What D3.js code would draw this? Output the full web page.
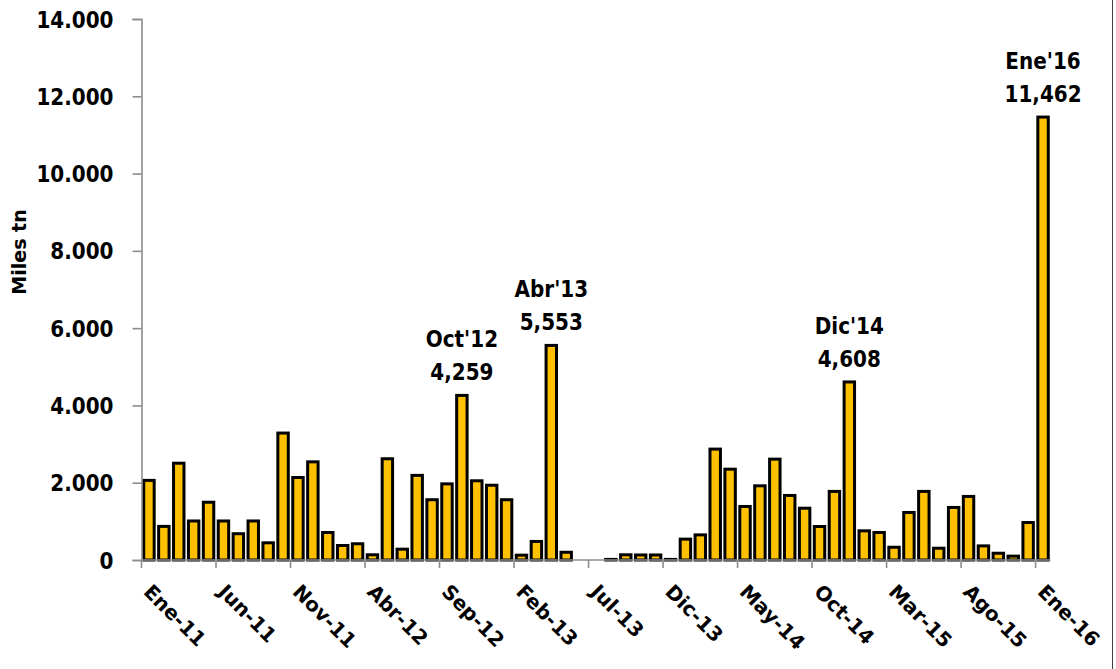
<!DOCTYPE html>
<html>
<head>
<meta charset="utf-8">
<script src="https://cdn.jsdelivr.net/npm/d3@7"></script>
<style>
  html, body { margin: 0; padding: 0; background: #fff; }
  svg { display: block; }
  text { font-family: "DejaVu Sans", sans-serif; font-weight: bold; fill: #000; }
</style>
</head>
<body>
<svg id="chart" width="1116" height="669"></svg>
<script>
// ---- Data ----
const categories = [
  "Ene-11","Feb-11","Mar-11","Abr-11","May-11","Jun-11","Jul-11","Ago-11","Sep-11","Oct-11","Nov-11","Dic-11",
  "Ene-12","Feb-12","Mar-12","Abr-12","May-12","Jun-12","Jul-12","Ago-12","Sep-12","Oct-12","Nov-12","Dic-12",
  "Ene-13","Feb-13","Mar-13","Abr-13","May-13","Jun-13","Jul-13","Ago-13","Sep-13","Oct-13","Nov-13","Dic-13",
  "Ene-14","Feb-14","Mar-14","Abr-14","May-14","Jun-14","Jul-14","Ago-14","Sep-14","Oct-14","Nov-14","Dic-14",
  "Ene-15","Feb-15","Mar-15","Abr-15","May-15","Jun-15","Jul-15","Ago-15","Sep-15","Oct-15","Nov-15","Dic-15",
  "Ene-16"
];
const values = [
  2060, 870, 2505, 1010, 1495, 1010, 680, 1010, 445, 3285, 2135, 2540,
  712, 375, 420, 135, 2620, 280, 2190, 1560, 1970, 4259, 2050, 1935,
  1560, 125, 480, 5553, 200, null, null, 15, 135, 130, 130, 15,
  540, 650, 2870, 2350, 1385, 1920, 2610, 1670, 1340, 867, 1775, 4608,
  755, 712, 330, 1230, 1775, 305, 1360, 1645, 365, 175, 100, 970,
  11462
];
const xTickLabels = ["Ene-11","Jun-11","Nov-11","Abr-12","Sep-12","Feb-13","Jul-13","Dic-13","May-14","Oct-14","Mar-15","Ago-15","Ene-16"];
const yTicks = [0, 2000, 4000, 6000, 8000, 10000, 12000, 14000];
const annCats = ["Oct-12", "Abr-13", "Dic-14", "Ene-16"];
const annTitles = ["Oct'12", "Abr'13", "Dic'14", "Ene'16"];
const annValues = ["4,259", "5,553", "4,608", "11,462"];
const yTitle = "Miles tn";

// ---- Layout ----
const svg = d3.select("#chart");
const plotL = 141.5, plotR = 1050.5, plotT = 19, plotB = 560;

const pIn = 0.3;
const x = d3.scaleBand().domain(categories).range([plotL, plotR]).paddingInner(pIn).paddingOuter(pIn / 2);
const y = d3.scaleLinear().domain([0, 14000]).range([plotB, plotT]);
const step = x.step();
const boundary = c => x(c) - step * pIn / 2;

// Bars
const data = categories.map((c, i) => ({ c, v: values[i] })).filter(d => d.v !== null);
svg.append("g").selectAll("rect").data(data).join("rect")
  .attr("x", d => x(d.c))
  .attr("width", x.bandwidth())
  .attr("y", d => y(d.v))
  .attr("height", d => y(0) - y(d.v))
  .attr("fill", "#FFC000")
  .attr("stroke", "#000")
  .attr("stroke-width", 3);

// Y axis
const yAxis = d3.axisLeft(y).tickValues(yTicks).tickSize(9).tickPadding(19)
  .tickFormat(v => d3.format(",")(v).replace(/,/g, "."));
const gy = svg.append("g").attr("transform", `translate(${plotL},0)`).call(yAxis);
gy.select(".domain").attr("stroke", "#8c8c8c").attr("stroke-width", 1.6);
gy.selectAll(".tick line").attr("stroke", "#8c8c8c").attr("stroke-width", 1.6);
gy.selectAll(".tick text").style("font-size", "20px").style("font-family", "DejaVu Sans").style("font-weight", "bold").attr("fill", "#000")
  .attr("dy", "0.36em")
  .attr("transform", "scale(1,1.12)");

// X axis (ticks between categories)
const gx = svg.append("g");
gx.append("line").attr("x1", plotL).attr("x2", plotR).attr("y1", plotB).attr("y2", plotB)
  .attr("stroke", "#8c8c8c").attr("stroke-width", 1.6);
gx.selectAll("line.tick").data(xTickLabels).join("line").attr("class", "tick")
  .attr("x1", d => boundary(d)).attr("x2", d => boundary(d))
  .attr("y1", plotB).attr("y2", plotB + 8)
  .attr("stroke", "#8c8c8c").attr("stroke-width", 1.6);
gx.selectAll("text").data(xTickLabels).join("text")
  .attr("transform", d => `translate(${boundary(d) + 12},${582}) rotate(45)`)
  .attr("dy", "0.78em")
  .attr("text-anchor", "start")
  .style("font-size", "20px")
  .text(d => d);

// Y title
svg.append("text")
  .attr("transform", `translate(26,252) rotate(-90)`)
  .attr("text-anchor", "middle")
  .style("font-size", "19px")
  .text(yTitle);

// Annotations
annCats.forEach((c, i) => {
  const v = values[categories.indexOf(c)];
  const cx = x(c) + x.bandwidth() / 2;
  const by = y(v) - 15;
  svg.append("text").attr("transform", `translate(${cx},${by}) scale(1,1.12)`).attr("text-anchor", "middle")
    .style("font-size", "20px").text(annValues[i]);
  svg.append("text").attr("transform", `translate(${cx},${by - 33}) scale(1,1.12)`).attr("text-anchor", "middle")
    .style("font-size", "20px").text(annTitles[i]);
});

// Right frame line
svg.append("line").attr("x1", 1112.5).attr("x2", 1112.5).attr("y1", 0).attr("y2", 669)
  .attr("stroke", "#404040").attr("stroke-width", 1);
</script>
</body>
</html>
